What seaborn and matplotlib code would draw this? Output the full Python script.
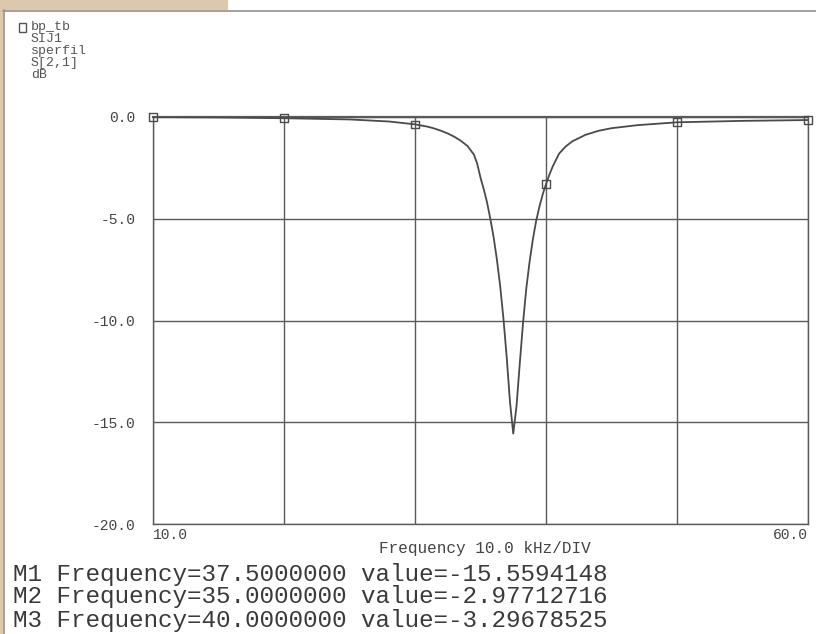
import matplotlib
matplotlib.use("Agg")
import matplotlib.pyplot as plt
from matplotlib.patches import Rectangle
from matplotlib.lines import Line2D
import seaborn as sns
import pandas as pd

# ---- data ----
freq_khz = [10, 15, 20, 25, 28, 30, 31, 31.5, 32, 32.5, 33, 33.5, 34, 34.5,
            34.75, 35, 35.25, 35.5, 35.75, 36, 36.25, 36.5, 36.75, 37, 37.25,
            37.5, 37.75, 38, 38.25, 38.5, 38.75, 39, 39.25, 39.5, 39.75, 40,
            40.25, 40.5, 41, 41.5, 42, 43, 44, 45, 47, 50, 55, 60]
s21_db = [0.0, -0.02, -0.06, -0.12, -0.22, -0.36, -0.48, -0.57, -0.68, -0.81,
          -0.97, -1.17, -1.42, -1.85, -2.3, -2.98, -3.55, -4.2, -5.0, -5.9,
          -7.0, -8.3, -9.9, -11.8, -14.0, -15.56, -14.2, -12.1, -10.1, -8.4,
          -7.1, -6.0, -5.1, -4.4, -3.8, -3.30, -2.85, -2.45, -1.8, -1.45,
          -1.2, -0.88, -0.68, -0.55, -0.4, -0.26, -0.19, -0.15]
marker_freq = [10, 20, 30, 40, 50, 60]
marker_db = [0.0, -0.06, -0.36, -3.30, -0.26, -0.15]

x_ticks = [10, 20, 30, 40, 50, 60]
x_ticklabels = ["10.0", "", "", "", "", "60.0"]
y_ticks = [0, -5, -10, -15, -20]
y_ticklabels = ["0.0", "-5.0", "-10.0", "-15.0", "-20.0"]

legend_lines = ["bp_tb", "SIJ1", "sperfil", "S[2,1]", "dB"]
marker_readouts = [
    "M1 Frequency=37.5000000 value=-15.5594148",
    "M2 Frequency=35.0000000 value=-2.97712716",
    "M3 Frequency=40.0000000 value=-3.29678525",
]
x_axis_text = "Frequency 10.0 kHz/DIV"

df = pd.DataFrame({"freq": freq_khz, "db": s21_db})
dm = pd.DataFrame({"freq": marker_freq, "db": marker_db})

sns.set_style("white")
plt.rcParams["font.family"] = ["Liberation Mono", "DejaVu Sans Mono"]

W, H = 816, 634
fig = plt.figure(figsize=(W / 100, H / 100), dpi=100)
fig.patch.set_facecolor("white")

def fx(px):
    return px / W

def fy(py):
    return 1 - py / H

# tan frame pieces
tan = "#dcc9ad"
fig.add_artist(Rectangle((0, fy(10)), fx(228), 10 / H, transform=fig.transFigure,
                         facecolor=tan, edgecolor="none", zorder=0))
fig.add_artist(Rectangle((0, 0), fx(3), 1, transform=fig.transFigure,
                         facecolor=tan, edgecolor="none", zorder=0))
fig.add_artist(Line2D([fx(3), 1], [fy(10.5), fy(10.5)], transform=fig.transFigure,
                      color="#9a9a9a", lw=1.3))
fig.add_artist(Line2D([fx(3.5), fx(3.5)], [0, fy(10)], transform=fig.transFigure,
                      color="#9a9a9a", lw=1.3))

ax = fig.add_axes([fx(153), fy(524), (808 - 153) / W, (524 - 117) / H])
ax.set_facecolor("white")

line_col = "#4a4a4a"
sns.lineplot(data=df, x="freq", y="db", ax=ax, color=line_col, lw=1.3, zorder=3)
sns.scatterplot(data=dm, x="freq", y="db", ax=ax, marker="s", s=30,
                facecolor="none", edgecolor=line_col, linewidth=1.0, zorder=4,
                clip_on=False)

ax.set_xlim(10, 60)
ax.set_ylim(-20, 0)
ax.set_xticks(x_ticks)
ax.set_xticklabels(x_ticklabels)
ax.set_yticks(y_ticks)
ax.set_yticklabels(y_ticklabels)
ax.grid(True, color="#5a5a5a", lw=1.0)
ax.set_axisbelow(True)
for sp in ax.spines.values():
    sp.set_color("#5a5a5a")
    sp.set_linewidth(1.0)
ax.spines["top"].set_linewidth(1.6)

ax.tick_params(axis="x", length=0, pad=3, labelsize=10.5, labelcolor="#444444")
ax.tick_params(axis="y", length=3.6, width=1.0, color="#5a5a5a", direction="out",
               pad=9, labelsize=10.5, labelcolor="#444444")
xl = ax.get_xticklabels()
xl[0].set_ha("left")
xl[-1].set_ha("right")
ax.set_xlabel("")
ax.set_ylabel("")

# x-axis caption
fig.text(fx(485), fy(549), x_axis_text, ha="center", va="center",
         fontsize=11.5, color="#444444")

# top-left legend
fig.add_artist(Rectangle((fx(18.5), fy(31.5)), 8 / W, 8 / H, transform=fig.transFigure,
                         facecolor="none", edgecolor="#555555", lw=1.0))
leg_y = [27, 39, 51, 63, 75]
for t, yy in zip(legend_lines, leg_y):
    fig.text(fx(31), fy(yy), t, ha="left", va="center", fontsize=9.5,
             color="#555555")

# marker readouts
for t, yy in zip(marker_readouts, [574, 597, 620]):
    fig.text(fx(13), fy(yy), t, ha="left", va="center", fontsize=17.5,
             color="#3a3a3a")

fig.savefig("out.png", dpi=100, facecolor=fig.get_facecolor())
